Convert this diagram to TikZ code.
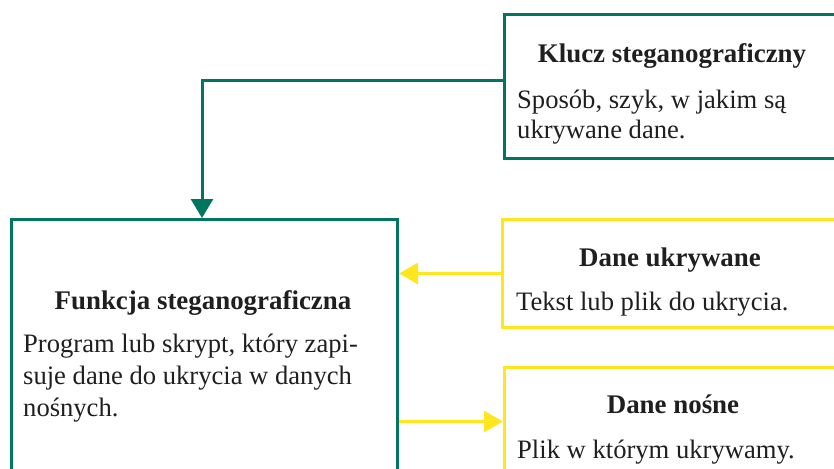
\documentclass[tikz,border=0pt]{standalone}
\usepackage{fontspec}
\setmainfont{Liberation Serif}
\usetikzlibrary{arrows.meta}
\definecolor{kgreen}{RGB}{0,118,96}
\definecolor{kyellow}{RGB}{255,230,30}
\tikzset{
  gbox/.style={draw=kgreen, line width=3pt, rectangle, inner sep=0pt, anchor=north west},
  ybox/.style={draw=kyellow, line width=3pt, rectangle, inner sep=0pt, anchor=north west},
  ttl/.style={font=\fontsize{26.9}{31}\selectfont\bfseries, anchor=base, inner sep=0pt, text=black!88},
  body/.style={font=\fontsize{26.6}{31}\selectfont, anchor=base west, inner sep=0pt, text=black!88},
  garrow/.style={draw=kgreen, line width=3pt, -{Triangle[width=22pt,length=19pt]}},
  yarrow/.style={draw=kyellow, line width=3pt, -{Triangle[width=21pt,length=19pt]}}
}
\begin{document}
\begin{tikzpicture}[x=1pt,y=-1pt]
\useasboundingbox (0,0) rectangle (834,468);
\clip (0,0) rectangle (834,468);
% boxes
\node[gbox, minimum width=360pt, minimum height=144pt] (klucz) at (503,13) {};
\node[gbox, minimum width=386pt, minimum height=300pt] (funkcja) at (10,218) {};
\node[ybox, minimum width=360pt, minimum height=108pt] (ukryw) at (501,218) {};
\node[ybox, minimum width=360pt, minimum height=108pt] (nosne) at (503,366) {};
% texts
\node[ttl] (kluczT) at (672,63) {Klucz steganograficzny};
\node[body] (kluczB1) at (517,108) {Sposób, szyk, w jakim są};
\node[body] (kluczB2) at (517,138) {ukrywane dane.};
\node[ttl] (funkcjaT) at (203,309) {Funkcja steganograficzna};
\node[body] (funkcjaB1) at (23,352) {Program lub skrypt, który zapi-};
\node[body] (funkcjaB2) at (23,384) {suje dane do ukrycia w danych};
\node[body] (funkcjaB3) at (23,416) {nośnych.};
\node[ttl] (ukrywT) at (670,266) {Dane ukrywane};
\node[body] (ukrywB) at (516,310) {Tekst lub plik do ukrycia.};
\node[ttl] (nosneT) at (673,413) {Dane nośne};
\node[body] (nosneB) at (517,458) {Plik w którym ukrywamy.};
% connectors
\coordinate (bend) at (202,81);
\draw[garrow] (klucz.west |- bend) -- (bend) -- (bend |- funkcja.north);
\draw[yarrow] (ukryw.west) -- (ukryw.west -| funkcja.east);
\draw[yarrow] (funkcja.east |- nosne.west) -- (nosne.west);
\end{tikzpicture}
\end{document}
